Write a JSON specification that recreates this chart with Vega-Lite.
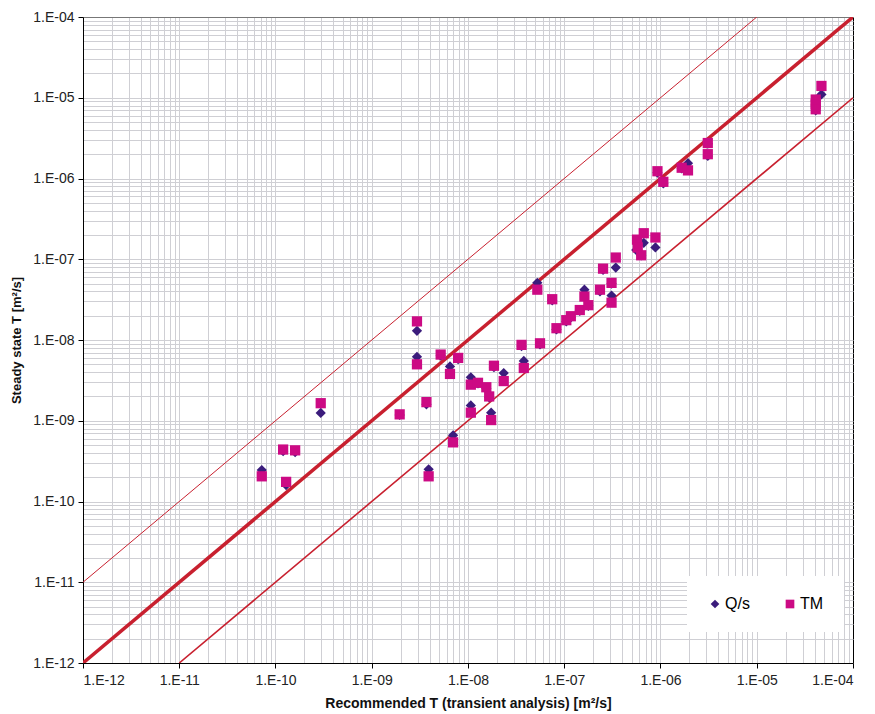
{
  "$schema": "https://vega.github.io/schema/vega-lite/v6.json",
  "width": 770,
  "height": 646,
  "autosize": "none",
  "padding": {"left": 83, "top": 17, "right": 22, "bottom": 51},
  "background": "white",
  "config": {
    "view": {"stroke": null},
    "font": "Liberation Sans",
    "axis": {
      "labelFont": "Liberation Sans",
      "labelFontSize": 14,
      "labelColor": "#222222",
      "titleFont": "Liberation Sans",
      "titleFontSize": 14,
      "titleFontWeight": "bold",
      "titleColor": "#111111",
      "domainColor": "#000000",
      "tickColor": "#000000",
      "gridWidth": 1,
      "labelOverlap": false
    }
  },
  "datasets": {
    "lines": [
      {"line": "1:1", "x": 1e-12, "y": 1e-12},
      {"line": "1:1", "x": 1e-4, "y": 1e-4},
      {"line": "x10", "x": 1e-12, "y": 1e-11},
      {"line": "x10", "x": 1e-5, "y": 1e-4},
      {"line": "x0.1", "x": 1e-11, "y": 1e-12},
      {"line": "x0.1", "x": 1e-4, "y": 1e-5}
    ],
    "points": [
      {"series": "Q/s", "x": 7.2e-11, "y": 2.45e-10},
      {"series": "Q/s", "x": 1.2e-10, "y": 4.2e-10},
      {"series": "Q/s", "x": 1.29e-10, "y": 1.6e-10},
      {"series": "Q/s", "x": 1.6e-10, "y": 4.1e-10},
      {"series": "Q/s", "x": 2.95e-10, "y": 1.25e-9},
      {"series": "Q/s", "x": 1.95e-9, "y": 1.18e-9},
      {"series": "Q/s", "x": 2.95e-9, "y": 1.3e-8},
      {"series": "Q/s", "x": 2.95e-9, "y": 6.2e-9},
      {"series": "Q/s", "x": 3.7e-9, "y": 1.6e-9},
      {"series": "Q/s", "x": 5.2e-9, "y": 6.4e-9},
      {"series": "Q/s", "x": 6.5e-9, "y": 4.7e-9},
      {"series": "Q/s", "x": 7.9e-9, "y": 5.8e-9},
      {"series": "Q/s", "x": 3.9e-9, "y": 2.5e-10},
      {"series": "Q/s", "x": 7.0e-9, "y": 6.6e-10},
      {"series": "Q/s", "x": 1.07e-8, "y": 3.45e-9},
      {"series": "Q/s", "x": 1.27e-8, "y": 2.9e-9},
      {"series": "Q/s", "x": 1.55e-8, "y": 2.5e-9},
      {"series": "Q/s", "x": 1.66e-8, "y": 1.95e-9},
      {"series": "Q/s", "x": 1.86e-8, "y": 4.6e-9},
      {"series": "Q/s", "x": 2.35e-8, "y": 3.9e-9},
      {"series": "Q/s", "x": 1.07e-8, "y": 1.55e-9},
      {"series": "Q/s", "x": 1.74e-8, "y": 1.26e-9},
      {"series": "Q/s", "x": 3.6e-8, "y": 8.4e-9},
      {"series": "Q/s", "x": 3.8e-8, "y": 5.5e-9},
      {"series": "Q/s", "x": 5.6e-8, "y": 8.8e-9},
      {"series": "Q/s", "x": 5.25e-8, "y": 5.1e-8},
      {"series": "Q/s", "x": 7.5e-8, "y": 3.1e-8},
      {"series": "Q/s", "x": 8.3e-8, "y": 1.35e-8},
      {"series": "Q/s", "x": 1.05e-7, "y": 1.7e-8},
      {"series": "Q/s", "x": 1.17e-7, "y": 1.9e-8},
      {"series": "Q/s", "x": 1.45e-7, "y": 2.3e-8},
      {"series": "Q/s", "x": 1.62e-7, "y": 4.2e-8},
      {"series": "Q/s", "x": 1.78e-7, "y": 2.65e-8},
      {"series": "Q/s", "x": 2.35e-7, "y": 4.0e-8},
      {"series": "Q/s", "x": 3.1e-7, "y": 3.55e-8},
      {"series": "Q/s", "x": 3.1e-7, "y": 5.0e-8},
      {"series": "Q/s", "x": 2.53e-7, "y": 7.4e-8},
      {"series": "Q/s", "x": 3.43e-7, "y": 7.9e-8},
      {"series": "Q/s", "x": 5.7e-7, "y": 1.7e-7},
      {"series": "Q/s", "x": 6.7e-7, "y": 1.6e-7},
      {"series": "Q/s", "x": 8.85e-7, "y": 1.4e-7},
      {"series": "Q/s", "x": 5.6e-7, "y": 1.3e-7},
      {"series": "Q/s", "x": 6.3e-7, "y": 1.12e-7},
      {"series": "Q/s", "x": 9.3e-7, "y": 1.18e-6},
      {"series": "Q/s", "x": 1.07e-6, "y": 8.7e-7},
      {"series": "Q/s", "x": 1.66e-6, "y": 1.33e-6},
      {"series": "Q/s", "x": 1.93e-6, "y": 1.55e-6},
      {"series": "Q/s", "x": 3.1e-6, "y": 2.7e-6},
      {"series": "Q/s", "x": 3.1e-6, "y": 1.9e-6},
      {"series": "Q/s", "x": 4.1e-5, "y": 9.2e-6},
      {"series": "Q/s", "x": 4.1e-5, "y": 8.0e-6},
      {"series": "Q/s", "x": 4.1e-5, "y": 7.0e-6},
      {"series": "Q/s", "x": 4.7e-5, "y": 1.1e-5},
      {"series": "TM", "x": 7.2e-11, "y": 2.05e-10},
      {"series": "TM", "x": 1.2e-10, "y": 4.4e-10},
      {"series": "TM", "x": 1.29e-10, "y": 1.75e-10},
      {"series": "TM", "x": 1.6e-10, "y": 4.3e-10},
      {"series": "TM", "x": 2.95e-10, "y": 1.65e-9},
      {"series": "TM", "x": 1.95e-9, "y": 1.2e-9},
      {"series": "TM", "x": 2.95e-9, "y": 1.7e-8},
      {"series": "TM", "x": 2.95e-9, "y": 5.0e-9},
      {"series": "TM", "x": 3.7e-9, "y": 1.7e-9},
      {"series": "TM", "x": 5.2e-9, "y": 6.6e-9},
      {"series": "TM", "x": 6.5e-9, "y": 3.8e-9},
      {"series": "TM", "x": 7.9e-9, "y": 6.0e-9},
      {"series": "TM", "x": 3.9e-9, "y": 2.05e-10},
      {"series": "TM", "x": 7.0e-9, "y": 5.4e-10},
      {"series": "TM", "x": 1.07e-8, "y": 2.8e-9},
      {"series": "TM", "x": 1.27e-8, "y": 2.95e-9},
      {"series": "TM", "x": 1.55e-8, "y": 2.6e-9},
      {"series": "TM", "x": 1.66e-8, "y": 2.0e-9},
      {"series": "TM", "x": 1.86e-8, "y": 4.8e-9},
      {"series": "TM", "x": 2.35e-8, "y": 3.1e-9},
      {"series": "TM", "x": 1.07e-8, "y": 1.26e-9},
      {"series": "TM", "x": 1.74e-8, "y": 1.02e-9},
      {"series": "TM", "x": 3.6e-8, "y": 8.7e-9},
      {"series": "TM", "x": 3.8e-8, "y": 4.5e-9},
      {"series": "TM", "x": 5.6e-8, "y": 9.1e-9},
      {"series": "TM", "x": 5.25e-8, "y": 4.2e-8},
      {"series": "TM", "x": 7.5e-8, "y": 3.2e-8},
      {"series": "TM", "x": 8.3e-8, "y": 1.4e-8},
      {"series": "TM", "x": 1.05e-7, "y": 1.76e-8},
      {"series": "TM", "x": 1.17e-7, "y": 1.97e-8},
      {"series": "TM", "x": 1.45e-7, "y": 2.35e-8},
      {"series": "TM", "x": 1.62e-7, "y": 3.45e-8},
      {"series": "TM", "x": 1.78e-7, "y": 2.7e-8},
      {"series": "TM", "x": 2.35e-7, "y": 4.2e-8},
      {"series": "TM", "x": 3.1e-7, "y": 2.9e-8},
      {"series": "TM", "x": 3.1e-7, "y": 5.1e-8},
      {"series": "TM", "x": 2.53e-7, "y": 7.65e-8},
      {"series": "TM", "x": 3.43e-7, "y": 1.05e-7},
      {"series": "TM", "x": 5.7e-7, "y": 1.75e-7},
      {"series": "TM", "x": 6.7e-7, "y": 2.1e-7},
      {"series": "TM", "x": 8.85e-7, "y": 1.86e-7},
      {"series": "TM", "x": 5.8e-7, "y": 1.4e-7},
      {"series": "TM", "x": 6.3e-7, "y": 1.12e-7},
      {"series": "TM", "x": 9.3e-7, "y": 1.23e-6},
      {"series": "TM", "x": 1.07e-6, "y": 9.1e-7},
      {"series": "TM", "x": 1.66e-6, "y": 1.36e-6},
      {"series": "TM", "x": 1.93e-6, "y": 1.26e-6},
      {"series": "TM", "x": 3.1e-6, "y": 2.75e-6},
      {"series": "TM", "x": 3.1e-6, "y": 2.0e-6},
      {"series": "TM", "x": 4.1e-5, "y": 9.5e-6},
      {"series": "TM", "x": 4.1e-5, "y": 8.3e-6},
      {"series": "TM", "x": 4.1e-5, "y": 7.2e-6},
      {"series": "TM", "x": 4.7e-5, "y": 1.4e-5}
    ]
  },
  "layer": [
    {
      "data": {"name": "lines"},
      "mark": {"type": "line", "color": "#c8202f", "clip": true},
      "encoding": {
        "x": {
          "field": "x", "type": "quantitative",
          "scale": {"type": "log", "domain": [1e-12, 1e-4], "nice": false},
          "axis": {
            "title": "Recommended T (transient analysis) [m²/s]",
            "values": [1e-12,2e-12,3e-12,4e-12,5e-12,6e-12,7e-12,8e-12,9e-12,1e-11,2e-11,3e-11,4e-11,5e-11,6e-11,7e-11,8e-11,9e-11,1e-10,2e-10,3e-10,4e-10,5e-10,6e-10,7e-10,8e-10,9e-10,1e-9,2e-9,3e-9,4e-9,5e-9,6e-9,7e-9,8e-9,9e-9,1e-8,2e-8,3e-8,4e-8,5e-8,6e-8,7e-8,8e-8,9e-8,1e-7,2e-7,3e-7,4e-7,5e-7,6e-7,7e-7,8e-7,9e-7,1e-6,2e-6,3e-6,4e-6,5e-6,6e-6,7e-6,8e-6,9e-6,1e-5,2e-5,3e-5,4e-5,5e-5,6e-5,7e-5,8e-5,9e-5,1e-4],
            "labelExpr": "abs(log(datum.value)/LN10 - round(log(datum.value)/LN10)) < 0.001 ? '1.E-' + (round(-log(datum.value)/LN10) < 10 ? '0' : '') + round(-log(datum.value)/LN10) : ''",
            "grid": true,
            "gridColor": {"condition": {"test": "datum.value > 9.9e-5", "value": "#000000"}, "value": "#cfcfd4"},
            "tickSize": 5,
            "tickOpacity": {"condition": {"test": "abs(log(datum.value)/LN10 - round(log(datum.value)/LN10)) < 0.001", "value": 1}, "value": 0},
            "labelPadding": 5,
            "titlePadding": 9
          }
        },
        "y": {
          "field": "y", "type": "quantitative",
          "scale": {"type": "log", "domain": [1e-12, 1e-4], "nice": false},
          "axis": {
            "title": "Steady state T [m²/s]",
            "titleFontSize": 13,
            "values": [1e-12,2e-12,3e-12,4e-12,5e-12,6e-12,7e-12,8e-12,9e-12,1e-11,2e-11,3e-11,4e-11,5e-11,6e-11,7e-11,8e-11,9e-11,1e-10,2e-10,3e-10,4e-10,5e-10,6e-10,7e-10,8e-10,9e-10,1e-9,2e-9,3e-9,4e-9,5e-9,6e-9,7e-9,8e-9,9e-9,1e-8,2e-8,3e-8,4e-8,5e-8,6e-8,7e-8,8e-8,9e-8,1e-7,2e-7,3e-7,4e-7,5e-7,6e-7,7e-7,8e-7,9e-7,1e-6,2e-6,3e-6,4e-6,5e-6,6e-6,7e-6,8e-6,9e-6,1e-5,2e-5,3e-5,4e-5,5e-5,6e-5,7e-5,8e-5,9e-5,1e-4],
            "labelExpr": "abs(log(datum.value)/LN10 - round(log(datum.value)/LN10)) < 0.001 ? '1.E-' + (round(-log(datum.value)/LN10) < 10 ? '0' : '') + round(-log(datum.value)/LN10) : ''",
            "grid": true,
            "gridColor": {"condition": {"test": "datum.value > 9.9e-5", "value": "#777777"}, "value": "#cfcfd4"},
            "tickSize": 5,
            "tickOpacity": {"condition": {"test": "abs(log(datum.value)/LN10 - round(log(datum.value)/LN10)) < 0.001", "value": 1}, "value": 0},
            "labelPadding": 4,
            "titlePadding": 9
          }
        },
        "detail": {"field": "line", "type": "nominal"},
        "strokeWidth": {
          "field": "line", "type": "nominal",
          "scale": {"type": "ordinal", "domain": ["1:1", "x10", "x0.1"], "range": [3.5, 1, 1.6]},
          "legend": null
        }
      }
    },
    {
      "data": {"name": "points"},
      "mark": {"type": "point", "filled": true, "opacity": 1, "size": 105, "strokeWidth": 0},
      "encoding": {
        "x": {"field": "x", "type": "quantitative", "scale": {"type": "log", "domain": [1e-12, 1e-4], "nice": false}},
        "y": {"field": "y", "type": "quantitative", "scale": {"type": "log", "domain": [1e-12, 1e-4], "nice": false}},
        "color": {
          "field": "series", "type": "nominal",
          "scale": {"domain": ["Q/s", "TM"], "range": ["#3b1c7c", "#cc0a84"]},
          "legend": {
            "title": null,
            "orient": "none",
            "legendX": 604,
            "legendY": 559,
            "direction": "horizontal",
            "fillColor": "white",
            "padding": 20,
            "symbolSize": 75,
            "labelFont": "Liberation Sans",
            "labelFontSize": 16,
            "labelColor": "#000000",
            "labelOffset": 2,
            "columnPadding": 32
          }
        },
        "shape": {
          "field": "series", "type": "nominal",
          "scale": {"domain": ["Q/s", "TM"], "range": ["diamond", "square"]}
        }
      }
    }
  ]
}
